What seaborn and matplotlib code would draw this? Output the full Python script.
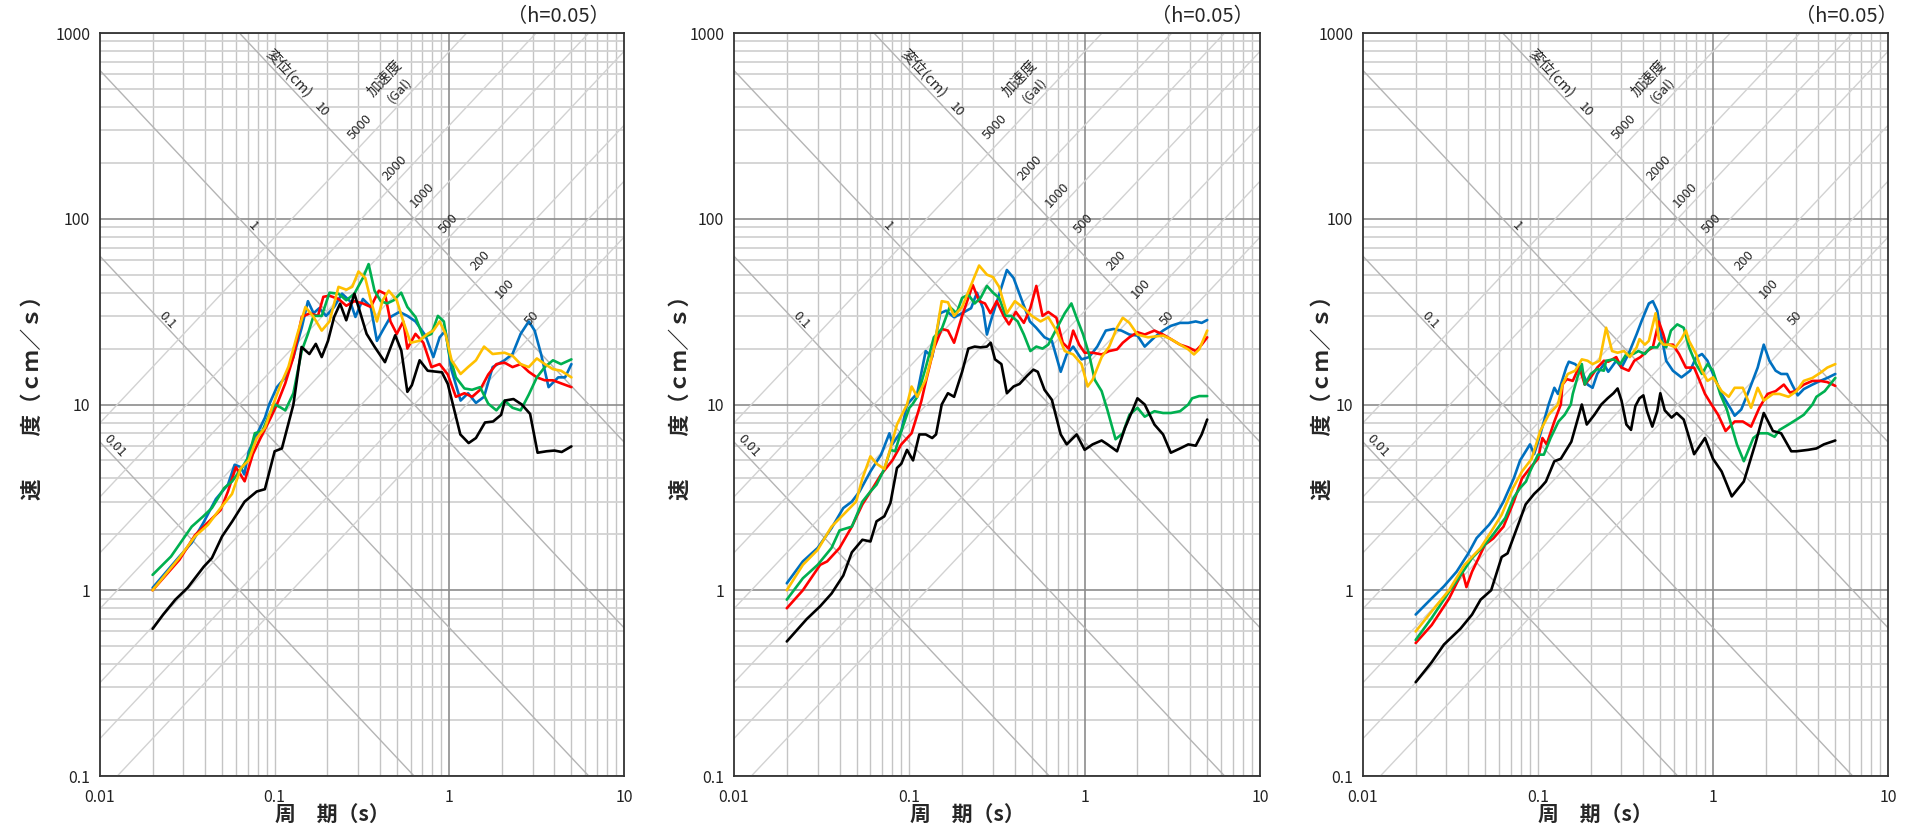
import numpy as np
import pandas as pd
import matplotlib
matplotlib.use('Agg')
import matplotlib.pyplot as plt
import matplotlib.ticker as mticker
import seaborn as sns

# ---------------- data ----------------
# panel 1
p1_blue_T = [0.02, 0.0285, 0.0335, 0.039, 0.0461, 0.054, 0.059, 0.064, 0.067, 0.0711, 0.079, 0.088, 0.093, 0.103, 0.115,
             0.128, 0.143, 0.155, 0.167, 0.18, 0.197, 0.219, 0.243, 0.27, 0.29, 0.32, 0.355, 0.385, 0.415, 0.46, 0.518,
             0.575, 0.64, 0.73, 0.81, 0.88, 0.95, 1.03, 1.16, 1.28, 1.42, 1.58, 1.77, 2.07, 2.3, 2.56, 2.85, 3.08, 3.35,
             3.7, 4.2, 4.6, 5.0]
p1_blue_v = [1.03, 1.52, 1.8, 2.3, 3.1, 3.7, 4.74, 4.6, 4.2, 5.6, 6.9, 8.5, 10, 12.4, 14,
             18, 26, 36, 31, 33, 30, 33.5, 39.5, 36, 29.6, 37, 33.5, 22, 25, 29.6, 31.5,
             30, 28, 23.5, 18, 23, 25, 15.3, 10.5, 11.5, 10.2, 11, 15.9, 17.3, 18.7, 24, 28, 25, 18.7,
             12.4, 14, 14, 16.5]
p1_red_T = [0.02, 0.0285, 0.035, 0.049, 0.054, 0.06, 0.0673, 0.075, 0.083, 0.095, 0.103, 0.115, 0.128, 0.143, 0.159,
            0.177, 0.19, 0.206, 0.232, 0.257, 0.286, 0.32, 0.355, 0.395, 0.428, 0.46, 0.5, 0.545, 0.575, 0.64, 0.71,
            0.79, 0.88, 0.98, 1.09, 1.22, 1.35, 1.5, 1.67, 1.86, 2.07, 2.3, 2.56, 2.85, 3.17, 3.52, 3.92, 4.36, 5.0]
p1_red_v = [1.0, 1.46, 1.98, 2.7, 3.4, 4.6, 3.86, 5.4, 6.6, 8.5, 10, 13, 18, 29.6, 31,
            30, 38, 38.5, 37, 34, 36, 35, 33.5, 41, 39.5, 28, 24, 28, 20, 24, 21.5,
            15.9, 16.5, 14.5, 11, 11.5, 11, 12, 14.5, 16.5, 16.8, 15.9, 16.5, 15, 14, 13.5, 13.5, 13, 12.4]
p1_green_T = [0.02, 0.0255, 0.0335, 0.039, 0.0437, 0.0514, 0.057, 0.0654, 0.071, 0.077, 0.085, 0.093, 0.1, 0.109,
              0.115, 0.128, 0.143, 0.155, 0.167, 0.186, 0.206, 0.232, 0.257, 0.286, 0.32, 0.345, 0.373, 0.405, 0.44,
              0.48, 0.53, 0.575, 0.64, 0.71, 0.79, 0.86, 0.93, 1.0, 1.09, 1.22, 1.35, 1.5, 1.67, 1.86, 2.07, 2.3,
              2.56, 2.85, 3.17, 3.52, 3.92, 4.36, 5.0]
p1_green_v = [1.21, 1.52, 2.2, 2.5, 2.77, 3.55, 3.85, 4.6, 5.25, 7.0, 7.2, 8.8, 10, 9.6,
              9.3, 11.5, 19.5, 24, 30, 30, 40, 39.5, 36.4, 39.5, 48, 57, 41, 36, 35,
              36.4, 40, 33.5, 29.6, 23, 24, 30, 28, 18.7, 14, 12.2, 12, 12.4, 10.1, 9.3, 10.5, 9.6,
              9.3, 11.3, 14, 15.9, 17.3, 16.5, 17.5]
p1_yellow_T = [0.02, 0.0285, 0.035, 0.0415, 0.049, 0.057, 0.064, 0.071, 0.079, 0.088, 0.098, 0.109, 0.12, 0.135,
               0.15, 0.167, 0.186, 0.206, 0.232, 0.257, 0.278, 0.302, 0.33, 0.355, 0.385, 0.415, 0.45, 0.5, 0.545,
               0.6, 0.67, 0.75, 0.81, 0.88, 0.95, 1.03, 1.16, 1.28, 1.42, 1.58, 1.77, 2.07, 2.3, 2.56, 2.85, 3.17,
               3.52, 3.92, 4.36, 5.0]
p1_yellow_v = [1.0, 1.5, 1.95, 2.25, 2.77, 3.3, 4.55, 5.0, 6.6, 7.5, 10, 13, 16, 24,
               33.5, 29.6, 25, 28, 43, 41.5, 43, 52, 48, 36.4, 28, 36.4, 41, 36.4, 28,
               21.5, 22, 24, 25, 28, 24, 17.3, 14.6, 15.9, 17.3, 20.5, 18.7, 19, 18.3, 16.5, 15.9, 17.7,
               16.5, 15.5, 15.2, 14]
p1_black_T = [0.02, 0.023, 0.027, 0.0317, 0.0393, 0.0437, 0.05, 0.0572, 0.0673, 0.0789, 0.0879, 0.1, 0.11, 0.128,
              0.1426, 0.158, 0.172, 0.186, 0.202, 0.219, 0.237, 0.257, 0.286, 0.302, 0.336, 0.374, 0.428, 0.49,
              0.531, 0.575, 0.61, 0.676, 0.752, 0.907, 0.98, 1.156, 1.29, 1.42, 1.6, 1.78, 1.98, 2.08, 2.33, 2.6,
              2.9, 3.2, 3.6, 4.0, 4.4, 5.0]
p1_black_v = [0.62, 0.74, 0.89, 1.03, 1.34, 1.49, 1.95, 2.35, 3.0, 3.4, 3.5, 5.6, 5.8, 10,
              20.4, 18.7, 21.2, 18, 22, 29.6, 34.9, 28.4, 39.5, 33.5, 24, 20.4, 16.9, 23.6,
              19.5, 11.7, 12.7, 17.3, 15.2, 14.9, 12.9, 6.9, 6.2, 6.6, 8.0, 8.1, 8.8, 10.5, 10.7, 10,
              8.9, 5.5, 5.6, 5.65, 5.55, 5.95]

# panel 2
p2_blue_T = [0.02, 0.0247, 0.03, 0.036, 0.042, 0.047, 0.052, 0.06, 0.069, 0.077, 0.08, 0.09, 0.097, 0.111, 0.124,
             0.135, 0.15, 0.162, 0.18, 0.2, 0.225, 0.243, 0.263, 0.277, 0.291, 0.325, 0.36, 0.393, 0.44, 0.487,
             0.527, 0.59, 0.65, 0.73, 0.79, 0.86, 0.96, 1.06, 1.18, 1.32, 1.46, 1.62, 1.8, 2.0, 2.2, 2.5, 2.8,
             3.1, 3.5, 3.9, 4.3, 4.65, 5.0]
p2_blue_v = [1.09, 1.43, 1.69, 2.16, 2.77, 3.0, 3.4, 4.36, 5.37, 7.0, 6.1, 7.2, 10, 11.5, 19.4,
             18, 31, 32, 29.5, 31, 33, 40, 33, 23.8, 28, 39, 53, 48, 36, 28,
             26, 23, 22, 15, 18.6, 20.5, 17.5, 18, 20.5, 25, 25.5, 25, 23.8, 23.5, 20.5, 23, 25,
             26.5, 27.5, 27.5, 28, 27.5, 28.5]
p2_red_T = [0.02, 0.0247, 0.031, 0.034, 0.04, 0.047, 0.054, 0.062, 0.069, 0.08, 0.09, 0.103, 0.111, 0.117, 0.124,
            0.138, 0.153, 0.166, 0.18, 0.2, 0.217, 0.23, 0.25, 0.27, 0.29, 0.315, 0.345, 0.37, 0.405, 0.45, 0.49,
            0.53, 0.575, 0.62, 0.69, 0.75, 0.81, 0.86, 0.93, 1.0, 1.11, 1.25, 1.38, 1.53, 1.65, 1.8, 2.0, 2.2,
            2.5, 2.8, 3.1, 3.5, 3.9, 4.3, 4.65, 5.0]
p2_red_v = [0.8, 1.0, 1.37, 1.43, 1.69, 2.2, 2.9, 3.56, 4.2, 5.0, 6.1, 7.0, 8.8, 10.4, 13.2,
            20, 25.5, 25, 21.5, 30, 37.5, 44, 36, 35, 31, 36, 30, 27, 31.5, 27.5, 33,
            43.5, 30, 31.5, 29.3, 21.5, 20, 25, 21, 19, 19, 18.6, 19.4, 19.8, 21.5, 23, 24.5, 23.8,
            25, 23.8, 22.5, 21, 20.3, 19.4, 21, 23]
p2_green_T = [0.02, 0.0247, 0.03, 0.036, 0.04, 0.047, 0.054, 0.06, 0.065, 0.072, 0.078, 0.083, 0.09, 0.1, 0.104,
              0.111, 0.124, 0.138, 0.153, 0.17, 0.186, 0.2, 0.217, 0.236, 0.255, 0.277, 0.3, 0.325, 0.355, 0.38,
              0.415, 0.45, 0.49, 0.53, 0.575, 0.62, 0.69, 0.77, 0.84, 0.9, 0.98, 1.06, 1.14, 1.25, 1.35, 1.5,
              1.65, 1.8, 2.0, 2.2, 2.5, 2.8, 3.1, 3.5, 3.9, 4.1, 4.5, 5.0]
p2_green_v = [0.89, 1.16, 1.37, 1.69, 2.1, 2.2, 3.0, 3.4, 3.7, 4.5, 5.7, 5.6, 7.2, 9.6, 10,
              11, 15.8, 23, 25.5, 33.5, 31, 37.5, 39, 35, 37.5, 43.5, 40, 37.5, 30, 30,
              28, 23.8, 19.4, 20.5, 20, 21, 25.5, 31, 35, 29.3, 23.8, 18.6, 13.6, 11.8, 9.3, 6.5,
              7.0, 8.8, 9.6, 8.6, 9.2, 9.0, 9.0, 9.2, 10, 10.8, 11.1, 11.1]
p2_yellow_T = [0.02, 0.0247, 0.03, 0.036, 0.042, 0.0497, 0.054, 0.06, 0.065, 0.072, 0.078, 0.085, 0.097, 0.103,
               0.111, 0.124, 0.138, 0.153, 0.166, 0.18, 0.2, 0.225, 0.25, 0.277, 0.3, 0.325, 0.36, 0.4, 0.45, 0.5,
               0.56, 0.62, 0.69, 0.77, 0.86, 0.96, 1.04, 1.11, 1.25, 1.38, 1.53, 1.65, 1.8, 2.0, 2.3, 2.8, 3.1,
               3.5, 3.9, 4.2, 4.5, 5.0]
p2_yellow_v = [1.0, 1.37, 1.65, 2.2, 2.55, 3.0, 4.0, 5.26, 4.8, 4.5, 5.8, 7.8, 10, 12.5,
               11, 13.6, 20, 36, 35.5, 30, 33.5, 44, 56, 50, 48.5, 43, 31, 36, 33, 30,
               28, 29.5, 25, 19.4, 18.6, 16.5, 12.5, 13.6, 18, 20.5, 26, 29.3, 27.5, 23.8, 23, 23.5, 22.5,
               21, 19.8, 18.6, 19.8, 25]
p2_black_T = [0.02, 0.026, 0.031, 0.036, 0.042, 0.047, 0.054, 0.06, 0.065, 0.072, 0.078, 0.085, 0.09, 0.097, 0.105,
              0.114, 0.124, 0.135, 0.142, 0.153, 0.166, 0.18, 0.2, 0.217, 0.236, 0.255, 0.277, 0.291, 0.308, 0.335,
              0.36, 0.393, 0.425, 0.47, 0.51, 0.54, 0.59, 0.65, 0.73, 0.79, 0.9, 1.0, 1.11, 1.25, 1.35, 1.53, 1.7,
              1.9, 2.0, 2.2, 2.5, 2.8, 3.1, 3.5, 3.9, 4.3, 4.65, 5.0]
p2_black_v = [0.53, 0.7, 0.82, 0.96, 1.2, 1.6, 1.87, 1.83, 2.35, 2.5, 2.95, 4.55, 4.8, 5.7, 5.0,
              6.9, 6.9, 6.6, 6.9, 10, 11.5, 11, 15, 20, 20.5, 20.3, 20.5, 21.5, 17.5, 16.5,
              11.5, 12.5, 12.9, 14.3, 15.4, 15, 12, 10.6, 6.9, 6.1, 6.9, 5.7, 6.1, 6.4, 6.1, 5.6, 7.5,
              9.6, 10.8, 10, 7.8, 6.9, 5.5, 5.8, 6.1, 6.0, 6.9, 8.3]

# panel 3
p3_blue_T = [0.02, 0.0247, 0.029, 0.0343, 0.04, 0.0446, 0.0525, 0.057, 0.0635, 0.0727, 0.079, 0.09, 0.095, 0.103,
             0.115, 0.124, 0.13, 0.145, 0.15, 0.163, 0.178, 0.192, 0.205, 0.218, 0.238, 0.252, 0.28, 0.3, 0.329,
             0.366, 0.39, 0.43, 0.453, 0.48, 0.505, 0.54, 0.59, 0.66, 0.74, 0.8, 0.865, 0.93, 1.0, 1.12, 1.27,
             1.33, 1.45, 1.6, 1.8, 1.95, 2.1, 2.28, 2.45, 2.65, 2.83, 3.05, 3.3, 3.7, 4.1, 4.5, 5.0]
p3_blue_v = [0.74, 0.905, 1.05, 1.26, 1.58, 1.91, 2.25, 2.5, 3.0, 4.0, 5.0, 6.1, 5.4, 6.9,
             10, 12.3, 11.4, 15.8, 17, 16.5, 15.2, 12.8, 12.3, 14.6, 16.5, 15, 17.2, 15.8, 18.7,
             23.9, 28, 35, 36, 32, 23.9, 17.2, 15.2, 14, 15.2, 17.9, 18.7, 17.2, 14.6, 11.4, 9.4,
             8.7, 9.4, 11.8, 15.8, 21, 17.2, 15.2, 14.6, 14.6, 12.8, 11.2, 12.1, 12.8, 13.4, 13.9, 14.6]
p3_red_T = [0.02, 0.0247, 0.031, 0.037, 0.039, 0.042, 0.0498, 0.0555, 0.0635, 0.0727, 0.081, 0.09, 0.1, 0.106,
            0.112, 0.124, 0.135, 0.138, 0.146, 0.158, 0.172, 0.185, 0.2, 0.218, 0.238, 0.252, 0.28, 0.3, 0.33,
            0.355, 0.385, 0.42, 0.453, 0.49, 0.52, 0.54, 0.59, 0.64, 0.7, 0.78, 0.84, 0.9, 0.98, 1.07, 1.18,
            1.33, 1.48, 1.65, 1.84, 2.05, 2.28, 2.54, 2.75, 2.95, 3.3, 3.7, 4.1, 4.5, 5.0]
p3_red_v = [0.52, 0.65, 0.9, 1.26, 1.04, 1.26, 1.76, 1.9, 2.2, 3.0, 4.0, 4.55, 5.1, 6.6,
            6.1, 8.1, 10, 12.8, 13.7, 13.4, 16, 12.8, 14, 15.8, 17.2, 17, 18, 15.8, 15.2,
            17.2, 18, 19.4, 20.3, 28, 23.9, 21, 21, 18.7, 15.8, 15.8, 13.4, 11.4, 10, 8.8, 7.2,
            8.1, 8.1, 7.6, 9.6, 11.4, 11.8, 12.8, 11.6, 11.8, 12.8, 13.4, 13.4, 13.2, 12.6]
p3_green_T = [0.02, 0.0247, 0.031, 0.036, 0.042, 0.0498, 0.0555, 0.065, 0.0726, 0.079, 0.0854, 0.09, 0.1, 0.108,
              0.118, 0.131, 0.142, 0.154, 0.158, 0.168, 0.178, 0.185, 0.2, 0.218, 0.238, 0.245, 0.27, 0.295, 0.32,
              0.35, 0.375, 0.408, 0.44, 0.48, 0.505, 0.54, 0.575, 0.625, 0.68, 0.73, 0.8, 0.865, 0.93, 1.0, 1.1,
              1.2, 1.27, 1.37, 1.5, 1.7, 1.84, 2.05, 2.25, 2.4, 2.7, 3.0, 3.3, 3.7, 3.9, 4.35, 5.0]
p3_green_v = [0.54, 0.71, 0.98, 1.2, 1.49, 1.76, 2.0, 2.45, 3.15, 3.55, 3.85, 4.36, 5.37, 5.37,
              6.6, 8.1, 8.8, 10, 11.4, 14, 16.5, 12.8, 14.6, 15.5, 15.2, 17.2, 17.5, 16.5, 18.7,
              18.7, 19.4, 18.7, 20.3, 20.3, 22, 20.3, 25, 27, 25.9, 20.3, 16.5, 14.6, 16.5, 15.2, 11.4,
              9.4, 7.8, 6.1, 4.95, 6.6, 7.0, 7.0, 6.7, 7.3, 7.8, 8.3, 8.8, 10, 11, 11.8, 13.9]
p3_yellow_T = [0.02, 0.0247, 0.031, 0.038, 0.047, 0.054, 0.062, 0.072, 0.081, 0.092, 0.103, 0.115, 0.13, 0.138,
               0.148, 0.163, 0.178, 0.192, 0.205, 0.225, 0.245, 0.265, 0.285, 0.31, 0.335, 0.366, 0.38, 0.408, 0.43,
               0.47, 0.49, 0.52, 0.56, 0.61, 0.66, 0.7, 0.73, 0.8, 0.865, 0.93, 1.0, 1.12, 1.23, 1.33, 1.48, 1.65,
               1.8, 1.95, 2.2, 2.4, 2.7, 3.0, 3.3, 3.7, 4.1, 4.5, 5.0]
p3_yellow_v = [0.6, 0.77, 1.0, 1.37, 1.69, 2.07, 2.55, 3.55, 4.36, 5.1, 7.2, 8.8, 10, 12.8,
               14.6, 15.2, 17.5, 17.2, 16.5, 17.2, 25.9, 19.4, 19, 19.4, 18, 20.3, 22.5, 21, 22,
               31, 22.5, 21, 21, 20.3, 22.5, 25, 22, 18.7, 15.2, 13.4, 14, 11.8, 11, 12.3, 12.3, 9.6,
               12.3, 10.5, 11.4, 11.4, 11, 11.8, 13.4, 13.9, 14.8, 15.8, 16.5]
p3_black_T = [0.02, 0.0247, 0.029, 0.036, 0.042, 0.047, 0.054, 0.062, 0.067, 0.077, 0.085, 0.095, 0.103, 0.111,
              0.124, 0.135, 0.155, 0.178, 0.19, 0.21, 0.23, 0.25, 0.27, 0.285, 0.3, 0.32, 0.34, 0.36, 0.38, 0.4,
              0.42, 0.45, 0.48, 0.5, 0.53, 0.58, 0.62, 0.68, 0.78, 0.9, 1.0, 1.12, 1.28, 1.5, 1.75, 1.95, 2.2,
              2.45, 2.8, 3.0, 3.5, 3.9, 4.3, 5.0]
p3_black_v = [0.32, 0.41, 0.51, 0.62, 0.74, 0.89, 1.0, 1.51, 1.58, 2.25, 2.9, 3.3, 3.55, 3.85,
              4.95, 5.1, 6.3, 10, 7.8, 8.8, 10, 10.8, 11.5, 12.2, 10.5, 7.8, 7.3, 9.8, 10.8, 11.2,
              9.2, 7.6, 9.2, 11.5, 9.3, 8.5, 9.0, 8.3, 5.4, 6.6, 5.1, 4.36, 3.2, 3.85, 6.2, 9.0, 7.2,
              7.0, 5.6, 5.6, 5.7, 5.8, 6.1, 6.4]

series_names = ['blue', 'red', 'green', 'yellow', 'black']
series_colors = ['#0070C0', '#FF0000', '#00B050', '#FFC000', '#000000']

# tripartite guide lines
disp_levels = [0.01, 0.1, 1, 10]                       # cm
acc_levels = [50, 100, 200, 500, 1000, 2000, 5000]     # Gal

x_ticks = [0.01, 0.1, 1, 10]
x_ticklabels = ['0.01', '0.1', '1', '10']
y_ticks = [0.1, 1, 10, 100, 1000]
y_ticklabels = ['0.1', '1', '10', '100', '1000']

panels = [
    [(p1_blue_T, p1_blue_v), (p1_red_T, p1_red_v), (p1_green_T, p1_green_v), (p1_yellow_T, p1_yellow_v), (p1_black_T, p1_black_v)],
    [(p2_blue_T, p2_blue_v), (p2_red_T, p2_red_v), (p2_green_T, p2_green_v), (p2_yellow_T, p2_yellow_v), (p2_black_T, p2_black_v)],
    [(p3_blue_T, p3_blue_v), (p3_red_T, p3_red_v), (p3_green_T, p3_green_v), (p3_yellow_T, p3_yellow_v), (p3_black_T, p3_black_v)],
]

# ---------------- style ----------------
sns.set_theme(style='white')
plt.rcParams['font.family'] = ['Noto Sans CJK JP', 'DejaVu Sans']
plt.rcParams['axes.unicode_minus'] = False

fig = plt.figure(figsize=(19.12, 8.3), dpi=100)
W, H = 1912, 830
ax_boxes = [(100, 524), (734, 526), (1363, 525)]   # left px, width px
ax_top, ax_bot = 33, 776
h_note_x = [0.875, 0.89, 0.92]
ylab_x = [32, 680, 1322]

palette = dict(zip(series_names, series_colors))

for i, (left, width) in enumerate(ax_boxes):
    ax = fig.add_axes([left / W, (H - ax_bot) / H, width / W, (ax_bot - ax_top) / H])

    rows = []
    for name, (T, v) in zip(series_names, panels[i]):
        for t, s in zip(T, v):
            rows.append((name, t, s))
    df = pd.DataFrame(rows, columns=['series', 'T', 'Sv'])

    sns.lineplot(data=df, x='T', y='Sv', hue='series', palette=palette, hue_order=series_names,
                 sort=False, estimator=None, linewidth=1.9, legend=False, ax=ax, zorder=3)

    ax.set_xscale('log')
    ax.set_yscale('log')

    # ticks
    ax.set_xticks(x_ticks)
    ax.set_xticklabels(x_ticklabels)
    ax.set_yticks(y_ticks)
    ax.set_yticklabels(y_ticklabels)

    # grid: dark lines only at 1 s and at the velocity decades
    ax.set_axisbelow(True)
    ax.xaxis.set_minor_locator(mticker.LogLocator(base=10, subs=range(2, 10), numticks=20))
    ax.yaxis.set_minor_locator(mticker.LogLocator(base=10, subs=range(2, 10), numticks=20))
    ax.xaxis.set_minor_formatter(mticker.NullFormatter())
    ax.yaxis.set_minor_formatter(mticker.NullFormatter())
    ax.yaxis.grid(which='major', color='#8c8c8c', linewidth=1.2)
    ax.xaxis.grid(False, which='major')
    ax.xaxis.grid(which='minor', color='#c4c4c4', linewidth=1.0)
    ax.yaxis.grid(which='minor', color='#d2d2d2', linewidth=1.3)
    ax.axvline(0.1, color='#c4c4c4', linewidth=1.0, zorder=0.6)
    ax.axvline(1, color='#8c8c8c', linewidth=1.2, zorder=0.6)

    # tripartite diagonals
    Tline = np.logspace(-2, 1, 200)
    for d in disp_levels:
        ax.plot(Tline, 2 * np.pi * d / Tline, color='#b4b4b4', linewidth=1.0, zorder=1.5)
    for a in acc_levels:
        ax.plot(Tline, a * Tline / (2 * np.pi), color='#d2d2d2', linewidth=1.0, zorder=1.5)
    ax.set_xlim(0.01, 10)
    ax.set_ylim(0.1, 1000)

    ang = np.degrees(np.arctan(((ax_bot - ax_top) / 4) / (width / 3)))
    for txt, t, s in [('0.01', 0.0121, 5.96), ('0.1', 0.0243, 28.4), ('1', 0.0755, 90.6), ('10', 0.186, 386)]:
        ax.text(t, s, txt, rotation=-ang, ha='center', va='center', fontsize=9.5,
                rotation_mode='anchor', zorder=4)
    ax.text(0.121, 608, '変位(cm)', rotation=-ang, ha='center', va='center', fontsize=10.5,
            rotation_mode='anchor', zorder=4)
    for txt, t, s in [('5000', 0.31, 313), ('2000', 0.49, 187), ('1000', 0.695, 134), ('500', 0.984, 94.4),
                      ('200', 1.51, 59.8), ('100', 2.085, 42), ('50', 2.96, 29)]:
        ax.text(t, s, txt, rotation=ang, ha='center', va='center', fontsize=9.5,
                rotation_mode='anchor', zorder=4)
    ax.text(0.428, 571, '加速度', rotation=ang, ha='center', va='center', fontsize=10.5,
            rotation_mode='anchor', zorder=4)
    ax.text(0.516, 494, '(Gal)', rotation=ang, ha='center', va='center', fontsize=9.5,
            rotation_mode='anchor', zorder=4)

    ax.tick_params(which='both', length=0)
    ax.tick_params(axis='x', pad=9, labelsize=11.5, colors='#222222')
    ax.tick_params(axis='y', pad=7, labelsize=11.5, colors='#222222')
    for sp in ax.spines.values():
        sp.set_color('#333333')
        sp.set_linewidth(1.3)
    ax.set_xlabel('')
    ax.set_ylabel('')

    ax.text(h_note_x[i], 1.022, '（h=0.05）', transform=ax.transAxes, ha='center', va='center', fontsize=14.5)
    ax.text(0.443, -0.0525, '周　期（s）', transform=ax.transAxes, ha='center', va='center',
            fontsize=15, fontweight='bold')
    fig.text(ylab_x[i] / W, (H - 392) / H, '速　　度（ｃｍ／ｓ）', rotation=90, ha='center', va='center',
             fontsize=15.5, fontweight='bold')

fig.savefig('out.png', dpi=100)
